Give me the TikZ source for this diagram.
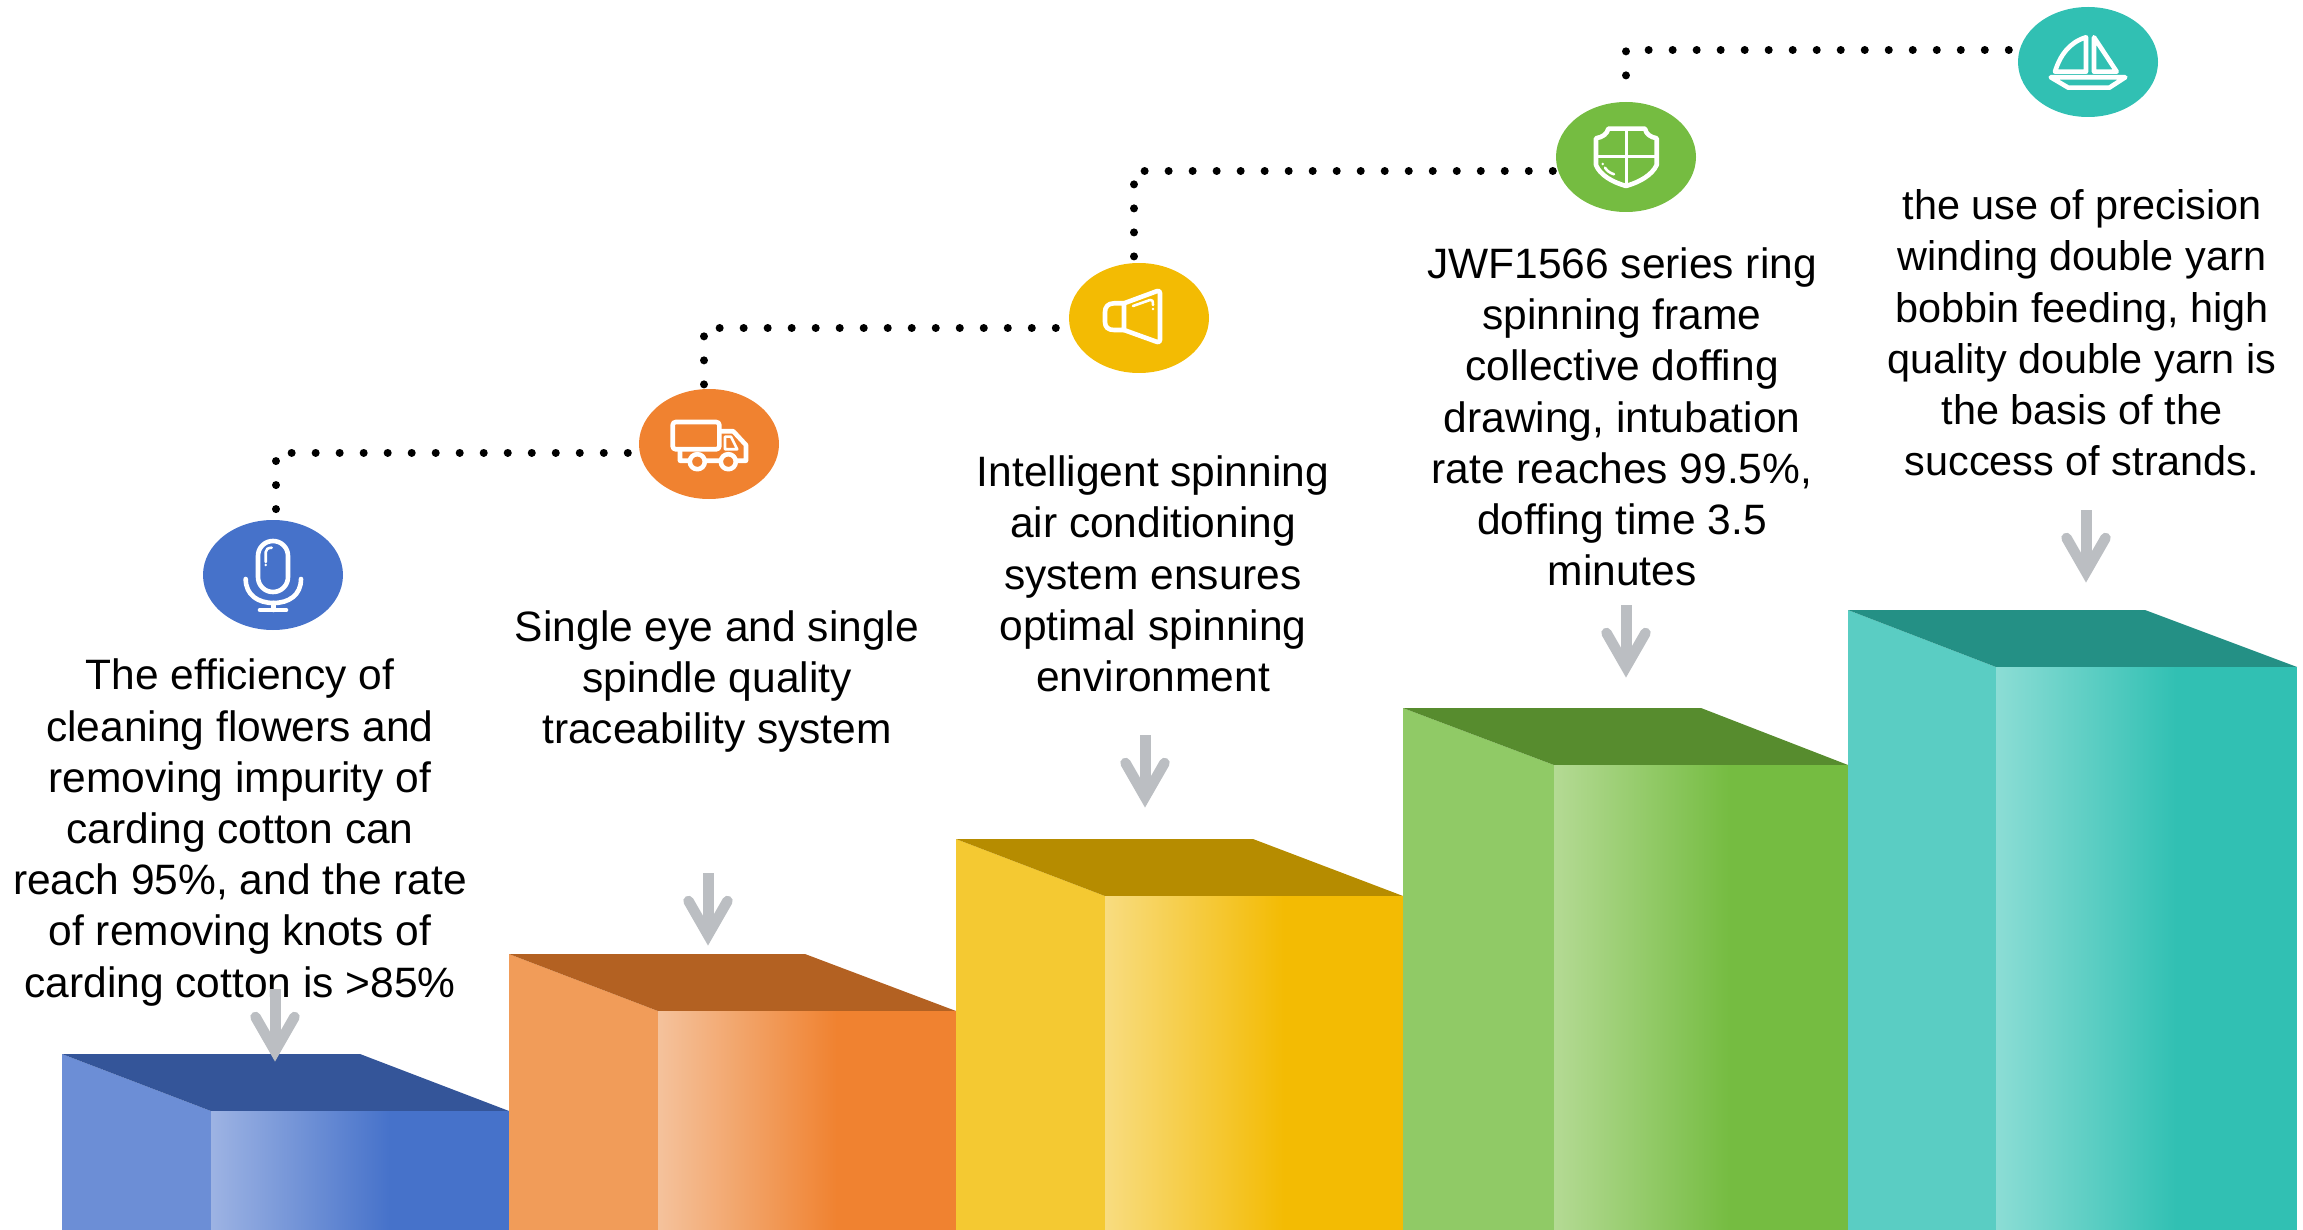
\documentclass[tikz,border=0pt]{standalone}
\usepackage{fontspec}
\setmainfont{Liberation Sans}
\usetikzlibrary{shapes.geometric}
\definecolor{aB}{HTML}{4672CA}\definecolor{aS}{HTML}{6C8ED6}\definecolor{aT}{HTML}{345599}\definecolor{aL}{HTML}{9DB3E3}
\definecolor{bB}{HTML}{F08230}\definecolor{bS}{HTML}{F19C59}\definecolor{bT}{HTML}{B36122}\definecolor{bL}{HTML}{F4C29C}
\definecolor{cB}{HTML}{F3BB03}\definecolor{cS}{HTML}{F4C932}\definecolor{cT}{HTML}{B68C00}\definecolor{cL}{HTML}{F8DC80}
\definecolor{dB}{HTML}{75BC41}\definecolor{dS}{HTML}{90CA66}\definecolor{dT}{HTML}{578C2E}\definecolor{dL}{HTML}{B4DA94}
\definecolor{eB}{HTML}{31C0B3}\definecolor{eS}{HTML}{5ACDC3}\definecolor{eT}{HTML}{249085}\definecolor{eL}{HTML}{8CDDD5}
\definecolor{arrowgrey}{HTML}{BBBEC2}
\newcommand\stepblock[7]{% left, frontleft, backright, right, top, fronttop, colour
  \fill[#7S] (#1,#5) -- (#2,#6) -- (#2,1230) -- (#1,1230) -- cycle;
  \fill[#7T] (#1,#5) -- (#3,#5) -- (#4,#6) -- (#2,#6) -- cycle;
  \fill[#7B] (#2,#6) rectangle (#4,1230);
  \shade[left color=#7L,middle color=#7L!36!#7B,right color=#7B] (#2,#6) rectangle ({#2+0.6*(#4-#2)},1230);
}
\newcommand\greyarrow[2]{% x, tip y
  \draw[arrowshaft] (#1,#2-73) -- (#1,#2-11);
  \draw[arrowhd] (#1-19.5,#2-45) -- (#1,#2-11) -- (#1+19.5,#2-45);
}
\tikzset{
  x=1pt,y=-1pt,
  badge/.style={ellipse,minimum width=140pt,minimum height=110pt,inner sep=0pt,draw=none},
  dotline/.style={line width=8pt,line cap=round,dash pattern=on 0.01pt off 24pt},
  textblock/.style={align=center,font=\fontsize{42.5}{51.2}\selectfont,text=black,inner sep=0pt},
  arrowshaft/.style={line width=11pt,arrowgrey,line cap=butt},
  arrowhd/.style={line width=10.5pt,arrowgrey,line cap=round,line join=miter,miter limit=10},
  icon/.style={line width=4.6pt,white,line cap=round,line join=round},
  iconthin/.style={line width=2.6pt,white,line cap=round,line join=round},
}
\begin{document}
\begin{tikzpicture}
\useasboundingbox (0,0) rectangle (2303,1230);
\stepblock{62}{211}{360}{509}{1054}{1111}{a}
\stepblock{509}{658}{805}{956}{954}{1011}{b}
\stepblock{956}{1105}{1253}{1403}{839}{896}{c}
\stepblock{1403}{1554}{1701}{1848}{708}{765}{d}
\stepblock{1848}{1996}{2145}{2297}{610}{667}{e}

\node[badge,fill=aB] (mic) at (273,575) {};
\node[badge,fill=bB] (truck) at (709,444) {};
\node[badge,fill=cB] (horn) at (1139,318) {};
\node[badge,fill=dB] (shield) at (1626,157) {};
\node[badge,fill=eB] (boat) at (2088,62) {};

\draw[dotline] ([shift={(-11,8.7)}]truck.west) -| ([shift={(3,10.5)}]mic.north);
\draw[dotline] ([shift={(-13,10)}]horn.west) -| ([shift={(-5,-3.5)}]truck.north);
\draw[dotline] ([shift={(-3,14)}]shield.west) -| ([shift={(-5,-4)}]horn.north);
\draw[dotline] ([shift={(-9,-12)}]boat.west) -| ([shift={(0,-2.5)}]shield.north);

\node[textblock] (t1) at (240,832.5) {The efficiency of\\cleaning flowers and\\removing impurity of\\carding cotton can\\reach 95\%, and the rate\\of removing knots of\\carding cotton is >85\%};
\node[textblock] (t2) at (717,681.5) {Single eye and single\\spindle quality\\traceability system};
\node[textblock] (t3) at (1153,574) {Intelligent spinning\\air conditioning\\system ensures\\optimal spinning\\environment};
\node[textblock] (t4) at (1622,417) {JWF1566 series ring\\spinning frame\\collective doffing\\drawing, intubation\\rate reaches 99.5\%,\\doffing time 3.5\\minutes};
\node[textblock,font=\fontsize{41.4}{51.2}\selectfont] (t5) at (2082,333) {the use of precision\\winding double yarn\\bobbin feeding, high\\quality double yarn is\\the basis of the\\success of strands.};

\greyarrow{275}{1062}
\greyarrow{708}{946}
\greyarrow{1145}{808}
\greyarrow{1626}{678}
\greyarrow{2086}{583}

% microphone
\draw[icon,rounded corners=14.9pt] (258,541) rectangle (288,592);
\draw[iconthin] (265.7,562) -- (265.7,552) .. controls (265.7,549) and (268,548) .. (271.7,547.7);
\fill[white] (265.7,565) circle (1.4);
\draw[icon] (245.7,579) .. controls (245.7,595) and (258,603) .. (273.5,603) .. controls (289,603) and (301,595) .. (301,579);
\draw[icon] (273.5,603) -- (273.5,610) (260,610) -- (286,610);
% truck
\draw[icon,rounded corners=3pt] (672.7,422) rectangle (719.3,449.3);
\draw[icon] (719.3,431.3) -- (733.3,431.3) -- (746,445) -- (746,460.7) -- (737,460.7) (680,449.3) -- (680,460.7) -- (689,460.7) (705.5,460.7) -- (720,460.7);
\draw[icon] (697.3,461.7) circle (7.5) (728.3,461.7) circle (7.5);
\draw[iconthin] (725,436.7) -- (731,436.7) -- (737.3,449.3) -- (725,449.3) -- cycle;
% horn
\draw[icon] (1124,303.3) -- (1114,303.3) .. controls (1108,303.3) and (1105,307) .. (1105,312) -- (1105,322) .. controls (1105,327) and (1108,330) .. (1114,330) -- (1124,330) -- cycle;
\draw[icon,rounded corners=3pt] (1124,303.3) -- (1160,290) -- (1160,343) -- (1124,330);
\draw[iconthin] (1133,306) -- (1150,300) .. controls (1152,299.5) and (1153,300.5) .. (1153,305);
\fill[white] (1153,309) circle (1.3);
% shield
\draw[icon] (1608.3,128.7) -- (1645,128.7) .. controls (1646,134) and (1650,137) .. (1656.7,138.3) -- (1656.7,165) .. controls (1652,175) and (1640,182) .. (1626,186) .. controls (1612,182) and (1600,175) .. (1596,165) -- (1596,138.3) .. controls (1603,137) and (1607,134) .. (1608.3,128.7) -- cycle;
\draw[iconthin,line width=3pt] (1626,128.7) -- (1626,186) (1596,156.7) -- (1656.7,156.7);
\fill[white] (1602.7,164) circle (1.3);
\draw[iconthin] (1605,167.7) .. controls (1607,171) and (1610,173) .. (1614,174.3);
% boat
\draw[icon] (2086,37.3) -- (2086,71.7) -- (2055,71.7) .. controls (2060,55) and (2070,42) .. (2086,37.3) -- cycle;
\draw[icon] (2094,37.3) -- (2094,71.7) -- (2116.7,71.7) -- cycle;
\draw[icon] (2050.7,77.3) -- (2125.3,77.3) -- (2109.3,87.7) -- (2068.3,87.7) -- cycle;
\end{tikzpicture}
\end{document}
